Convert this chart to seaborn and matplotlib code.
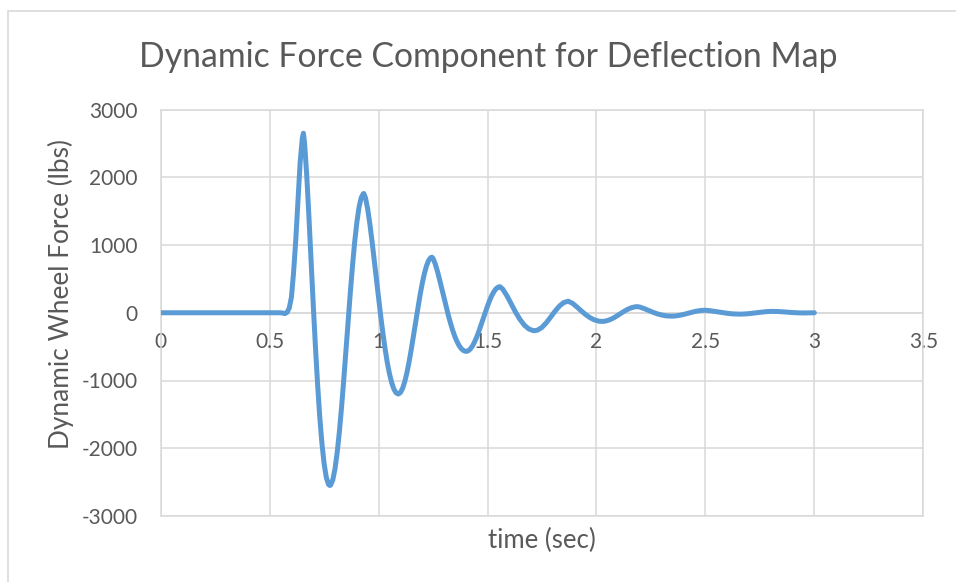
import matplotlib
matplotlib.use("Agg")
import matplotlib.pyplot as plt
import matplotlib.patches as mpatches
import pandas as pd
import seaborn as sns

# Dynamic wheel force time history (time in s, force in lbs)
time_s = [
    0.00, 0.10, 0.20, 0.30, 0.40, 0.50, 0.55, 0.56, 0.57, 0.58, 0.59,
    0.60, 0.61, 0.62, 0.63, 0.64, 0.65, 0.655, 0.66, 0.67, 0.68, 0.69,
    0.70, 0.71, 0.72, 0.73, 0.74, 0.75, 0.76, 0.77, 0.776, 0.78, 0.79,
    0.80, 0.81, 0.82, 0.83, 0.84, 0.85, 0.86, 0.87, 0.88, 0.89,
    0.90, 0.91, 0.92, 0.93, 0.932, 0.94, 0.95, 0.96, 0.97, 0.98, 0.99,
    1.00, 1.01, 1.02, 1.03, 1.04, 1.05, 1.06, 1.07, 1.08, 1.09,
    1.10, 1.11, 1.12, 1.13, 1.14, 1.15, 1.16, 1.17, 1.18, 1.19,
    1.20, 1.21, 1.22, 1.23, 1.24, 1.245, 1.25, 1.26, 1.27, 1.28, 1.29,
    1.30, 1.31, 1.32, 1.33, 1.34, 1.35, 1.36, 1.37, 1.38, 1.39,
    1.40, 1.402, 1.41, 1.42, 1.43, 1.44, 1.45, 1.46, 1.47, 1.48, 1.49,
    1.50, 1.51, 1.52, 1.53, 1.54, 1.55, 1.557, 1.57, 1.59,
    1.61, 1.63, 1.65, 1.67, 1.69, 1.71, 1.716, 1.73, 1.75, 1.77, 1.79,
    1.81, 1.83, 1.85, 1.87, 1.89, 1.91, 1.93, 1.95, 1.97, 1.99,
    2.01, 2.026, 2.04, 2.06, 2.08, 2.10, 2.12, 2.14, 2.16, 2.18, 2.188,
    2.20, 2.22, 2.24, 2.26, 2.28, 2.30, 2.32, 2.343, 2.36, 2.38,
    2.40, 2.42, 2.44, 2.46, 2.48, 2.50, 2.52, 2.54, 2.56, 2.58,
    2.60, 2.62, 2.64, 2.66, 2.68, 2.70, 2.72, 2.74, 2.76, 2.78,
    2.80, 2.81, 2.83, 2.85, 2.87, 2.89, 2.91, 2.93, 2.95, 2.97, 2.99, 3.00,
]

force_lbs = [
    0, 0, 0, 0, 0, 0, 0, -5, -12, 5, 70,
    230, 600, 1080, 1660, 2220, 2580, 2650, 2520, 2042, 1434, 780,
    127, -492, -1051, -1537, -1929, -2228, -2430, -2533, -2550, -2543, -2465,
    -2303, -2064, -1758, -1398, -995, -568, -135, 288, 683, 1034,
    1328, 1553, 1697, 1758, 1760, 1695, 1530, 1310, 1054, 780, 497,
    216, -55, -307, -535, -737, -901, -1031, -1126, -1181, -1200,
    -1179, -1118, -1019, -886, -724, -541, -343, -139, 63, 255,
    428, 576, 693, 774, 815, 820, 801, 721, 613, 489, 357,
    222, 90, -36, -153, -258, -351, -427, -487, -531, -559,
    -570, -570, -564, -539, -495, -435, -361, -276, -184, -88, 8,
    100, 184, 257, 315, 357, 380, 385, 348, 245,
    122, 1, -104, -187, -240, -264, -265, -256, -215, -147, -63,
    24, 99, 151, 170, 140, 86, 28, -26, -72, -105,
    -124, -128, -124, -105, -74, -34, 8, 46, 74, 89, 90,
    83, 60, 33, 6, -17, -34, -46, -50, -48, -39,
    -25, -8, 9, 24, 34, 37, 31, 21, 10, 0,
    -8, -15, -19, -20, -18, -13, -6, 2, 10, 16,
    20, 20, 19, 15, 10, 5, 1, -2, -3, -2, -1, 0,
]

x_ticks = [0, 0.5, 1, 1.5, 2, 2.5, 3, 3.5]
x_tick_labels = ["0", "0.5", "1", "1.5", "2", "2.5", "3", "3.5"]
y_ticks = [-3000, -2000, -1000, 0, 1000, 2000, 3000]
y_tick_labels = ["-3000", "-2000", "-1000", "0", "1000", "2000", "3000"]

title = "Dynamic Force Component for Deflection Map"
x_label = "time (sec)"
y_label = "Dynamic Wheel Force (lbs)"

sns.set_theme(style="white")
plt.rcParams["font.family"] = ["Lato", "DejaVu Sans"]

TEXT = "#595959"
GRID = "#D9D9D9"
LINE = "#5B9BD5"

W, H = 956, 582
fig = plt.figure(figsize=(W / 100, H / 100), dpi=100)
fig.patch.set_facecolor("white")

# chart-area frame (only its top and left edges fall inside the image)
fig.patches.append(mpatches.Rectangle((7.5 / W, -1), 2, 2 - 10.5 / H,
                                      transform=fig.transFigure,
                                      fill=False, edgecolor=GRID,
                                      linewidth=1.2))

left, right, top, bottom = 160.7, 923.3, 109.5, 516.0
ax = fig.add_axes([left / W, 1 - bottom / H, (right - left) / W, (bottom - top) / H])

df = pd.DataFrame({"time": time_s, "force": force_lbs})
sns.lineplot(data=df, x="time", y="force", ax=ax, color=LINE,
             linewidth=3.6, estimator=None, sort=False, zorder=3,
             solid_capstyle="round", solid_joinstyle="round")

ax.set_xlim(0, 3.5)
ax.set_ylim(-3000, 3000)
ax.set_xticks(x_ticks)
ax.set_xticklabels(x_tick_labels)
ax.set_yticks(y_ticks)
ax.set_yticklabels(y_tick_labels)
ax.grid(True, color=GRID, linewidth=1.1, zorder=0)
ax.set_axisbelow(True)

for side in ["left", "right", "top"]:
    ax.spines[side].set_color(GRID)
    ax.spines[side].set_linewidth(1.1)
ax.spines["bottom"].set_position(("data", 0))
ax.spines["bottom"].set_color(GRID)
ax.spines["bottom"].set_linewidth(1.1)
ax.axhline(-3000, color=GRID, linewidth=1.1, clip_on=False, zorder=1)

ax.tick_params(axis="x", length=0, pad=13.5, labelsize=15, labelcolor=TEXT)
ax.tick_params(axis="y", length=0, pad=16.5, labelsize=15, labelcolor=TEXT)
ax.set_xlabel("")
ax.set_ylabel("")

fig.text(488 / W, 1 - 57 / H, title, ha="center", va="center",
         fontsize=24.3, color=TEXT)
fig.text(542 / W, 1 - 540 / H, x_label, ha="center", va="center",
         fontsize=18.5, color=TEXT)
fig.text(60.5 / W, 1 - 294 / H, y_label, ha="center", va="center",
         rotation=90, fontsize=18.9, color=TEXT)

fig.savefig("out.png", dpi=100, facecolor="white")
